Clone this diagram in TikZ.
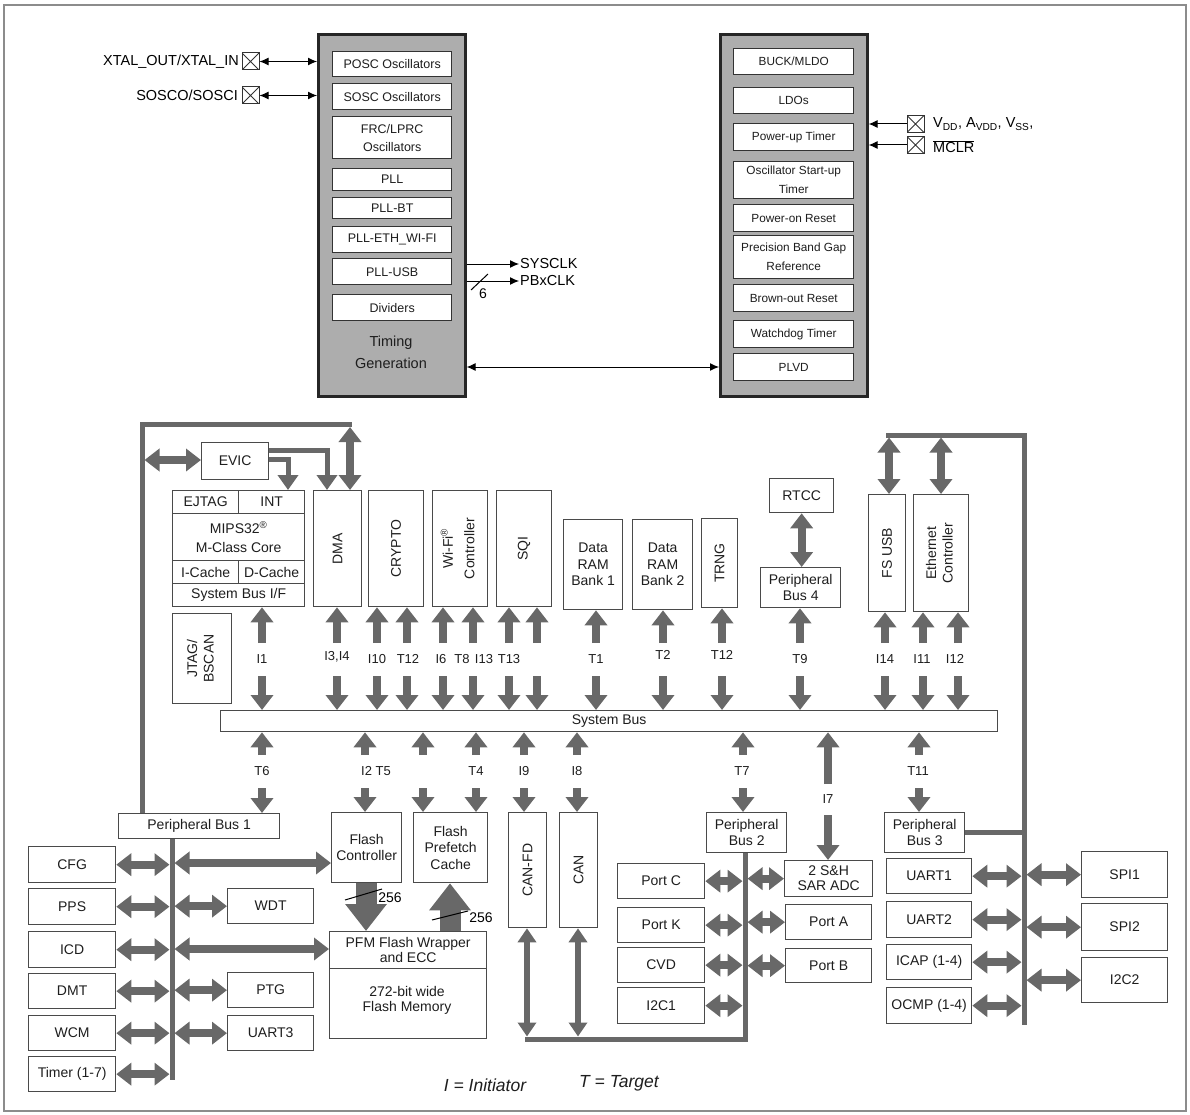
\documentclass[tikz,border=0pt]{standalone}
\usepackage{fontspec}
\setmainfont{Liberation Sans}
\usetikzlibrary{arrows.meta,calc}
\definecolor{acol}{HTML}{686868}
\definecolor{bcol}{HTML}{4A4A4A}
\definecolor{tgfill}{HTML}{ADADAD}
\definecolor{tcol}{HTML}{1E1E1E}
\tikzset{
 f11/.style={font=\fontsize{11.8}{19}\selectfont},
 f12/.style={font=\fontsize{12.5}{18}\selectfont},
 f13/.style={font=\fontsize{13}{15}\selectfont},
 f14/.style={font=\fontsize{14}{16.5}\selectfont},
 f15/.style={font=\fontsize{14.5}{22}\selectfont},
 box/.style={draw=bcol, line width=1.3pt, fill=white, inner sep=0pt, align=center, text=tcol},
 tbox/.style={draw=black!80, line width=1.4pt, fill=white, inner sep=0pt, align=center, text=tcol},
 lab/.style={inner sep=1pt, text=tcol, f13},
 busar/.style={draw=acol, line width=8pt, -{Triangle[width=22pt,length=15pt]}},
 dbar/.style={draw=acol, line width=8pt, {Triangle[width=22pt,length=15pt]}-{Triangle[width=22pt,length=15pt]}},
 candbl/.style={draw=acol, line width=6pt, {Triangle[width=18pt,length=14pt]}-{Triangle[width=18pt,length=14pt]}},
 fat/.style={draw=acol, line width=21pt, -{Triangle[width=40pt,length=27pt]}},
 evicar/.style={draw=acol, line width=5pt, -{Triangle[width=20pt,length=15pt]}},
 busline/.style={draw=acol, line width=5pt},
 thinar/.style={draw=black, line width=1pt, -{Latex[length=9pt,width=8pt]}},
 thindbl/.style={draw=black, line width=1pt, {Latex[length=9pt,width=8pt]}-{Latex[length=9pt,width=8pt]}},
 pin/.style={draw=black!80, line width=1pt, minimum size=17pt, inner sep=0pt,
   path picture={\draw[line width=0.8pt] (path picture bounding box.north west) -- (path picture bounding box.south east)
     (path picture bounding box.south west) -- (path picture bounding box.north east);}},
 bigbox/.style={draw=black!85, line width=2.6pt, fill=tgfill, anchor=north west, inner sep=0pt},
}
\newcommand{\Bx}[7][]{\node[box,#1,anchor=north west,minimum width=#5-#3,minimum height=#6-#4] (#2) at (#3,#4) {#7};}
\begin{document}
\begin{tikzpicture}[x=1pt,y=-1pt]
\useasboundingbox (0,0) rectangle (1190,1115);
\draw[draw=black!45, line width=1.2pt] (4,5) rectangle (1186,1111);

% ---------------- Timing generation ----------------
\node[bigbox, minimum width=147, minimum height=362] (tg) at (317,33) {};
\Bx[tbox,f12]{posc}{332}{51}{451}{76}{POSC Oscillators}
\Bx[tbox,f12]{sosc}{332}{83}{451}{109}{SOSC Oscillators}
\Bx[tbox,f12]{frc}{332}{116}{451}{158}{FRC/LPRC\\Oscillators}
\Bx[tbox,f12]{pll}{332}{168}{451}{190}{PLL}
\Bx[tbox,f12]{pllbt}{332}{197}{451}{218}{PLL-BT}
\Bx[tbox,f12]{plleth}{332}{226}{451}{252}{PLL-ETH\_WI-FI}
\Bx[tbox,f12]{pllusb}{332}{258}{451}{284}{PLL-USB}
\Bx[tbox,f12]{divs}{332}{294}{451}{320}{Dividers}
\node[f15, align=center, text=tcol] (tgtext) at (391,352) {Timing\\Generation};

\node[pin] (xpin) at (250.5,61.5) {};
\node[f15, anchor=east, inner sep=0pt] (xlab) at (239,62) {XTAL\_OUT/XTAL\_IN};
\node[pin] (spin) at (250.5,95.5) {};
\node[f15, anchor=east, inner sep=0pt] (slab) at (238,95) {SOSCO/SOSCI};
\draw[thindbl] (xpin.east) -- (xpin.east -| tg.west);
\draw[thindbl] (spin.east) -- (spin.east -| tg.west);

\node[f15, anchor=west, inner sep=1pt] (sysclk) at (519,264) {SYSCLK};
\node[f15, anchor=west, inner sep=1pt] (pbxclk) at (519,281) {PBxCLK};
\draw[thinar] (sysclk.west -| tg.east) -- (sysclk.west);
\draw[thinar] (pbxclk.west -| tg.east) -- (pbxclk.west);
\draw[line width=1pt] (471,290) -- (488,274);
\node[f14, inner sep=0pt] (six) at (483,294) {6};

% ---------------- Power management ----------------
\node[bigbox, minimum width=147, minimum height=362] (pm) at (719,33) {};
\Bx[tbox,f11]{buck}{733}{48}{853}{74}{BUCK/MLDO}
\Bx[tbox,f11]{ldo}{733}{87}{853}{113}{LDOs}
\Bx[tbox,f11]{put}{733}{123}{853}{150}{Power-up Timer}
\Bx[tbox,f11]{ost}{733}{161}{853}{198}{Oscillator Start-up\\Timer}
\Bx[tbox,f11]{por}{733}{204}{853}{231}{Power-on Reset}
\Bx[tbox,f11]{pbg}{733}{235}{853}{278}{Precision Band Gap\\Reference}
\Bx[tbox,f11]{bor}{733}{284}{853}{311}{Brown-out Reset}
\Bx[tbox,f11]{wdtim}{733}{320}{853}{347}{Watchdog Timer}
\Bx[tbox,f11]{plvd}{733}{353}{853}{380}{PLVD}

\node[pin] (vpin) at (915.5,124) {};
\node[pin] (mpin) at (915.5,145) {};
\draw[thinar] (vpin.west) -- (vpin.west -| pm.east);
\draw[thinar] (mpin.west) -- (mpin.west -| pm.east);
\node[f15, anchor=west, inner sep=0pt] (vlab) at (933,124) {V\textsubscript{DD}, A\textsubscript{VDD}, V\textsubscript{SS},};
\node[f15, anchor=west, inner sep=0pt] (mlab) at (933,147) {$\overline{\mbox{MCLR}}$};

\coordinate (tgy) at (0,367);
\draw[thindbl] (tg.east |- tgy) -- (pm.west |- tgy);

% ---------------- Middle modules ----------------
\Bx[f14]{evic}{201}{442}{268}{479}{EVIC}
\Bx[f14]{ejtag}{172}{490}{238}{513}{EJTAG}
\Bx[f14]{int}{238}{490}{304}{513}{INT}
\Bx[f14]{core}{172}{513}{304}{560}{MIPS32\textsuperscript{\textregistered}\\[2pt]M-Class Core}
\Bx[f14]{icache}{172}{560}{238}{583}{I-Cache}
\Bx[f14]{dcache}{238}{560}{304}{583}{D-Cache}
\Bx[f14]{sbif}{172}{583}{304}{606}{System Bus I/F}
\Bx[f14]{jtag}{172}{613}{231}{703}{\rotatebox{90}{\begin{tabular}{@{}c@{}}JTAG/\\BSCAN\end{tabular}}}
\Bx[f14]{dma}{313}{490}{361}{606}{\rotatebox{90}{DMA}}
\Bx[f14]{crypto}{368}{490}{423}{606}{\rotatebox{90}{CRYPTO}}
\Bx[f14]{wifi}{432}{490}{487}{606}{\rotatebox{90}{\begin{tabular}{@{}c@{}}Wi-Fi\textsuperscript{\textregistered}\\[5pt]Controller\end{tabular}}}
\Bx[f14]{sqi}{496}{490}{551}{606}{\rotatebox{90}{SQI}}
\Bx[f14]{ram1}{563}{519}{622}{609}{Data\\RAM\\Bank 1}
\Bx[f14]{ram2}{632}{519}{692}{609}{Data\\RAM\\Bank 2}
\Bx[f14]{trng}{701}{518}{737}{607}{\rotatebox{90}{TRNG}}
\Bx[f14]{rtcc}{769}{478}{833}{512}{RTCC}
\Bx[f14]{pb4}{760}{567}{840}{607}{Peripheral\\Bus 4}
\Bx[f14]{fsusb}{868}{494}{905}{611}{\rotatebox{90}{FS USB}}
\Bx[f14]{eth}{913}{494}{968}{611}{\rotatebox{90}{\begin{tabular}{@{}c@{}}Ethernet\\Controller\end{tabular}}}
\Bx[f14]{sysbus}{220}{710}{997}{731}{System Bus}

% ---------------- Lower modules ----------------
\Bx[f14]{pb1}{118}{813}{279}{838}{Peripheral Bus 1}
\Bx[f14]{cfg}{28}{846}{115}{882}{CFG}
\Bx[f14]{pps}{28}{888}{115}{924}{PPS}
\Bx[f14]{icd}{28}{931}{115}{967}{ICD}
\Bx[f14]{dmt}{28}{973}{115}{1008}{DMT}
\Bx[f14]{wcm}{28}{1015}{115}{1050}{WCM}
\Bx[f14]{timer}{28}{1056}{115}{1091}{Timer (1-7)}
\Bx[f14]{wdt}{227}{888}{313}{923}{WDT}
\Bx[f14]{ptg}{227}{972}{313}{1007}{PTG}
\Bx[f14]{uartthree}{227}{1015}{313}{1050}{UART3}

\Bx[f14]{flashctrl}{331}{812}{401}{882}{Flash\\Controller}
\Bx[f14]{prefetch}{413}{812}{487}{882}{Flash\\Prefetch\\Cache}
\Bx[font=\fontsize{14}{15}\selectfont]{pfmw}{329}{931}{486}{968}{PFM Flash Wrapper\\and ECC}
\Bx[f14]{flashmem}{329}{968}{486}{1038}{}
\node[font=\fontsize{14}{15}\selectfont, align=center, text=tcol] (fmtext) at (407,1000) {272-bit wide\\Flash Memory};
\Bx[f14]{canfd}{508}{812}{546}{927}{\rotatebox{90}{CAN-FD}}
\Bx[f14]{can}{559}{812}{597}{927}{\rotatebox{90}{CAN}}

\Bx[f14]{pb2}{706}{812}{786}{852}{Peripheral\\Bus 2}
\Bx[f14]{portc}{617}{863}{704}{898}{Port C}
\Bx[f14]{portk}{617}{907}{704}{942}{Port K}
\Bx[f14]{cvd}{617}{947}{704}{982}{CVD}
\Bx[f14]{itwocone}{617}{987}{704}{1023}{I2C1}
\Bx[font=\fontsize{14}{15}\selectfont]{adc}{784}{860}{872}{896}{2 S\&H\\SAR ADC}
\Bx[f14]{porta}{785}{904}{871}{939}{Port A}
\Bx[f14]{portb}{785}{948}{871}{982}{Port B}

\Bx[f14]{pb3}{884}{812}{964}{852}{Peripheral\\Bus 3}
\Bx[f14]{uartone}{886}{858}{971}{893}{UART1}
\Bx[f14]{uarttwo}{886}{901}{971}{937}{UART2}
\Bx[f14]{icap}{886}{944}{971}{979}{ICAP (1-4)}
\Bx[f14]{ocmp}{886}{987}{971}{1023}{OCMP (1-4)}
\Bx[f14]{spione}{1081}{851}{1167}{897}{SPI1}
\Bx[f14]{spitwo}{1081}{903}{1167}{950}{SPI2}
\Bx[f14]{itwoctwo}{1081}{957}{1167}{1002}{I2C2}

% ---------------- Thick bus lines ----------------
\draw[busline] (pb1.north -| 142,0) -- (142,424) -- (352,424);
\draw[busline] (pb1.south -| 172,0) -- (172,1080);
\draw[busline] (886,435) -- (1024,435) -- (1024,1025);
\draw[busline] (pb3.east) -- (pb3.east -| 1024,0);
\draw[busline] (525,1039) -- (745,1039) -- (pb2.south -| 745,0);

% EVIC connections
\draw[dbar] (144.5,460) -- (evic.west |- 0,460);
\draw[evicar] (evic.east |- 0,459) -| (int.north -| 288,0);
\draw[evicar] (evic.east |- 0,450) -| (dma.north -| 327,0);
\draw[dbar] (350,427) -- (dma.north -| 350,0);

% Module <-> system bus (upper)
\foreach \x/\n in {262/sbif, 337/dma, 377/crypto, 407/crypto, 443/wifi, 473/wifi, 509/sqi, 537/sqi, 596/ram1, 663/ram2, 722/trng, 800/pb4, 885/fsusb, 923/eth, 958/eth} {
  \draw[busar] (\x,643) -- (\n.south -| \x,0);
  \draw[busar] (\x,676) -- (sysbus.north -| \x,0);
}
\foreach \x/\y/\t [count=\i] in {262/659/I1, 337/657/{I3,I4}, 377/659/I10, 408/659/T12, 441/659/I6, 462/659/T8, 484/659/I13, 509/659/T13, 596/659/T1, 663/655/T2, 722/655/T12, 800/659/T9, 885/659/I14, 922/659/I11, 955/659/I12} {
  \node[lab] (ul\i) at (\x,\y) {\t};
}

% System bus <-> lower modules
\foreach \x/\n in {262/pb1, 365/flashctrl, 423/prefetch, 476/prefetch, 524/canfd, 577/can, 743/pb2, 919/pb3} {
  \draw[busar] (\x,755) -- (sysbus.south -| \x,0);
  \draw[busar] (\x,788) -- (\n.north -| \x,0);
}
\draw[busar] (828,784) -- (sysbus.south -| 828,0);
\draw[busar] (828,815) -- (adc.north -| 828,0);
\foreach \x/\y/\t [count=\i] in {262/771/T6, 376/771/I2 T5, 476/771/T4, 524/771/I9, 577/771/I8, 742/771/T7, 918/771/T11, 828/799/I7} {
  \node[lab] (ll\i) at (\x,\y) {\t};
}

% RTCC, USB, Ethernet
\draw[dbar] (rtcc.south) -- (rtcc.south |- pb4.north);
\draw[dbar] (889,437.5) -- (fsusb.north -| 889,0);
\draw[dbar] (941,437.5) -- (eth.north -| 941,0);

% Peripheral bus 1
\foreach \n in {cfg,pps,icd,dmt,wcm,timer} { \draw[dbar] (\n.east) -- (\n.east -| 169.5,0); }
\foreach \n in {wdt,ptg,uartthree} { \draw[dbar] (\n.west -| 174.5,0) -- (\n.west); }
\draw[dbar] (174.5,863) -- (flashctrl.west |- 0,863);
\draw[dbar] (174.5,949) -- (pfmw.west |- 0,949);

% Flash
\draw[fat] (flashctrl.south -| 366,0) -- (pfmw.north -| 366,0);
\draw[fat] (pfmw.north -| 450,0) -- (prefetch.south -| 450,0);
\draw[line width=1pt] (345,900) -- (382,889);
\node[f14, inner sep=0pt] (n256a) at (390,898) {256};
\draw[line width=1pt] (432,920) -- (468,911);
\node[f14, inner sep=0pt] (n256b) at (481,918) {256};

% CAN
\draw[candbl] (canfd.south -| 527,0) -- (527,1036.5);
\draw[candbl] (can.south -| 578,0) -- (578,1036.5);

% Peripheral bus 2
\foreach \n in {portc,portk,cvd,itwocone} { \draw[dbar] (\n.east) -- (\n.east -| 742.5,0); }
\foreach \n in {adc,porta,portb} { \draw[dbar] (\n.west -| 747.5,0) -- (\n.west); }

% Peripheral bus 3
\foreach \n in {uartone,uarttwo,icap,ocmp} { \draw[dbar] (\n.east) -- (\n.east -| 1021.5,0); }
\foreach \n in {spione,spitwo,itwoctwo} { \draw[dbar] (\n.west -| 1026.5,0) -- (\n.west); }

% Legend
\node[font=\fontsize{17.5}{20}\selectfont\itshape, text=tcol] (ilab) at (485,1085) {I = Initiator};
\node[font=\fontsize{17.5}{20}\selectfont\itshape, text=tcol] (tlab) at (619,1083) {T = Target};
\end{tikzpicture}
\end{document}
